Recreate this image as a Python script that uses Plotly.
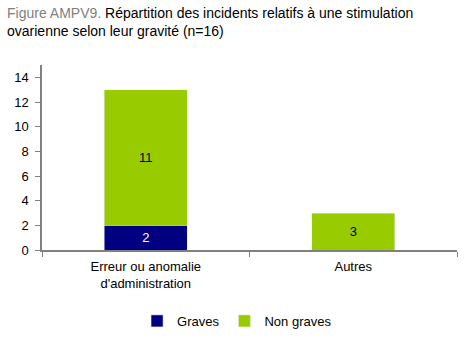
import plotly.graph_objects as go

categories = ["Erreur ou anomalie<br>d'administration", "Autres"]
graves = [2, 0]
non_graves = [11, 3]
y_ticks = [0, 2, 4, 6, 8, 10, 12, 14]

def labels(vals):
    return [str(v) if v else "" for v in vals]

fig = go.Figure()
fig.add_trace(go.Bar(
    name="Graves", x=categories, y=graves, marker_color="#000080",
    text=labels(graves), textposition="inside", insidetextanchor="middle",
    textfont=dict(color="white", size=13), width=0.4,
))
fig.add_trace(go.Bar(
    name="Non graves", x=categories, y=non_graves, marker_color="#99CC00",
    text=labels(non_graves), textposition="inside", insidetextanchor="middle",
    textfont=dict(color="black", size=13), width=0.4,
))

title_text = (
    "<span style='color:#7f7f7f'>Figure AMPV9.</span> "
    "Répartition des incidents relatifs à une stimulation<br>"
    "ovarienne selon leur gravité (n=16)"
)

fig.update_layout(
    barmode="stack",
    width=473, height=340,
    margin=dict(l=42, r=16, t=65, b=90, autoexpand=False),
    plot_bgcolor="white", paper_bgcolor="white",
    font=dict(family="Liberation Sans, Arial, sans-serif", size=13, color="black"),
    annotations=[dict(
        text=title_text, xref="paper", yref="paper",
        x=-0.089, y=1.335, xanchor="left", yanchor="top", align="left",
        showarrow=False, font=dict(size=14, color="black"),
    )],
    legend=dict(orientation="h", x=0.47, xanchor="center",
                yref="container", y=0.056, yanchor="middle",
                font=dict(size=13), traceorder="normal",
                itemwidth=30, entrywidth=0, tracegroupgap=0),
    uniformtext=dict(mode="show", minsize=8),
)
fig.update_xaxes(
    showline=True, linecolor="#808080", linewidth=1.5,
    ticks="outside", tickson="boundaries", ticklen=5, tickcolor="#808080",
    tickfont=dict(size=13), ticklabelstandoff=4,
)
fig.update_yaxes(
    range=[0, 15], tickvals=y_ticks, showgrid=False, zeroline=False,
    showline=True, linecolor="#808080", linewidth=1.5,
    ticks="outside", ticklen=5, tickcolor="#808080", tickfont=dict(size=13),
    ticklabelstandoff=4,
)

fig.write_html("out.html")
